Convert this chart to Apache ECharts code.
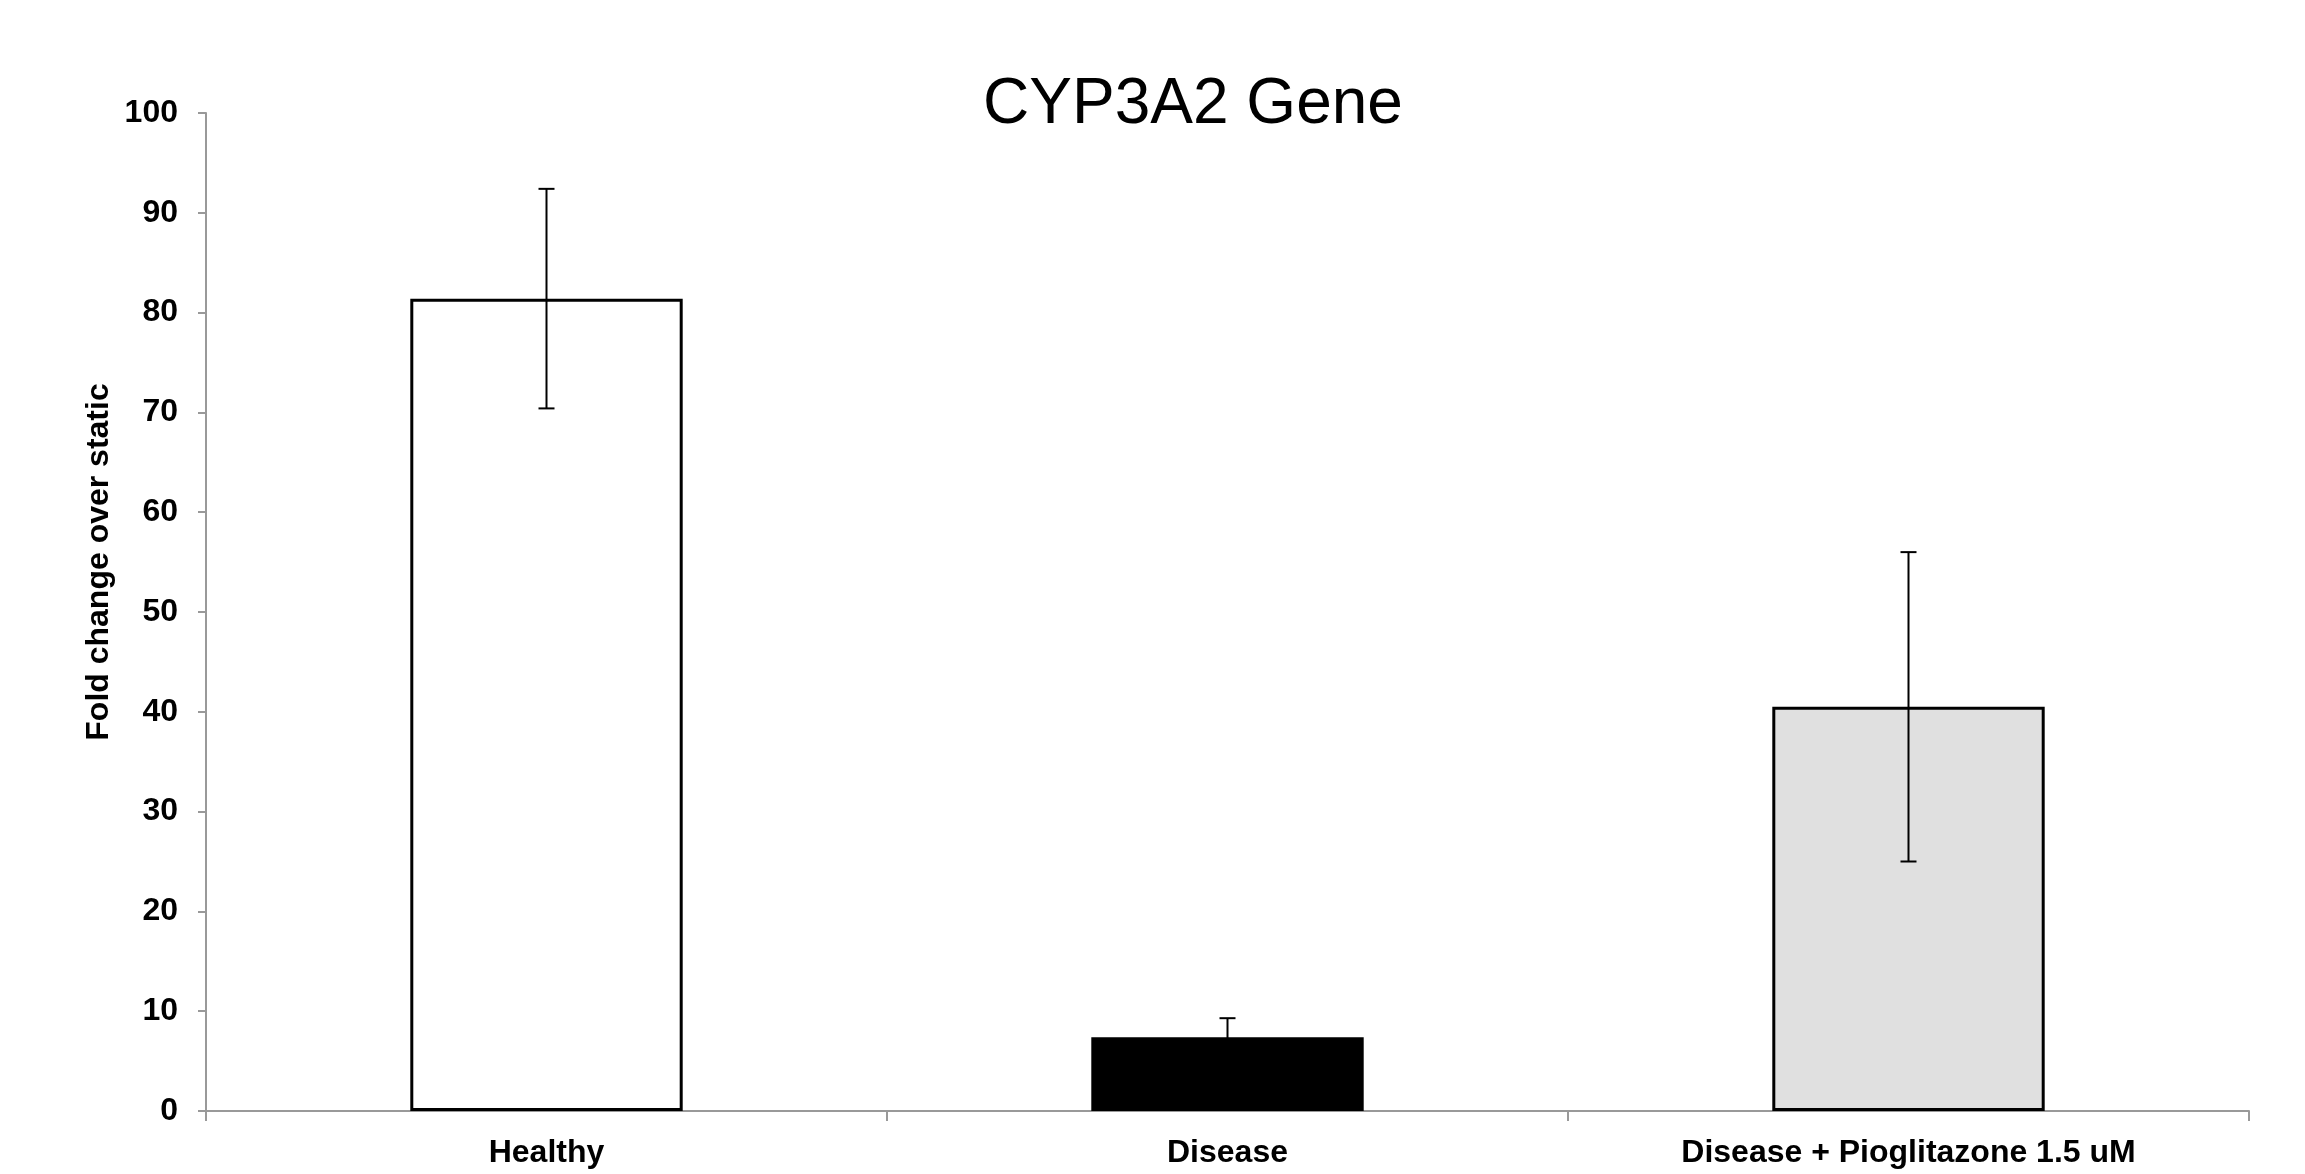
<!DOCTYPE html>
<html>
<head>
<meta charset="utf-8">
<title>CYP3A2 Gene</title>
<script src="https://cdn.jsdelivr.net/npm/echarts@6/dist/echarts.min.js"></script>
<style>
  html, body { margin: 0; padding: 0; background: #fff; }
  #chart { width: 2305px; height: 1174px; }
</style>
</head>
<body>
<div id="chart"></div>
<script>
// data
const categories = ['Healthy', 'Disease', 'Disease + Pioglitazone 1.5 uM'];
const means = [81.4, 7.4, 40.5];
const errors = [11.0, 1.9, 15.5];
const barColors = ['#ffffff', '#000000', '#e0e0e0'];
const yTicks = { min: 0, max: 100, interval: 10 };

const font = 'Arial, "Liberation Sans", Helvetica, sans-serif';
const chart = echarts.init(document.getElementById('chart'));

chart.setOption({
  backgroundColor: '#ffffff',
  animation: false,
  title: {
    text: 'CYP3A2 Gene',
    left: 1193,
    top: 73,
    padding: 0,
    textAlign: 'center',
    textStyle: { fontFamily: font, fontSize: 64, fontWeight: 'normal', color: '#000' }
  },
  grid: { left: 206, right: 56, top: 113, bottom: 63 },
  xAxis: {
    type: 'category',
    data: categories,
    axisLine: { lineStyle: { color: '#999', width: 2 } },
    axisTick: { show: true, length: 10, lineStyle: { color: '#999', width: 2 } },
    axisLabel: { margin: 26, fontFamily: font, fontSize: 32, fontWeight: 'bold', color: '#000' }
  },
  yAxis: {
    type: 'value',
    min: yTicks.min,
    max: yTicks.max,
    interval: yTicks.interval,
    splitLine: { show: false },
    axisLine: { show: true, lineStyle: { color: '#999', width: 2 } },
    axisTick: { show: true, length: 8, lineStyle: { color: '#999', width: 2 } },
    axisLabel: { margin: 28, fontFamily: font, fontSize: 32, fontWeight: 'bold', color: '#000' }
  },
  graphic: [{
    type: 'text',
    x: 99,
    y: 562,
    rotation: Math.PI / 2,
    style: {
      text: 'Fold change over static',
      fontFamily: font,
      fontSize: 32,
      fontWeight: 'bold',
      fill: '#000',
      align: 'center',
      verticalAlign: 'middle'
    }
  }],
  series: [
    {
      type: 'bar',
      barCategoryGap: '60%',
      data: means.map((v, i) => ({
        value: v,
        itemStyle: { color: barColors[i], borderColor: '#000', borderWidth: 3 }
      }))
    },
    {
      // error bars
      type: 'custom',
      z: 5,
      data: means.map((m, i) => [i, m, errors[i]]),
      renderItem: function (params, api) {
        const x = api.value(0);
        const m = api.value(1);
        const e = api.value(2);
        const top = api.coord([x, m + e]);
        const bot = api.coord([x, m - e]);
        const hw = 8;
        const style = { stroke: '#000', lineWidth: 2 };
        return {
          type: 'group',
          children: [
            { type: 'line', shape: { x1: top[0], y1: top[1], x2: bot[0], y2: bot[1] }, style: style },
            { type: 'line', shape: { x1: top[0] - hw, y1: top[1], x2: top[0] + hw, y2: top[1] }, style: style },
            { type: 'line', shape: { x1: bot[0] - hw, y1: bot[1], x2: bot[0] + hw, y2: bot[1] }, style: style }
          ]
        };
      }
    }
  ]
});
</script>
</body>
</html>
